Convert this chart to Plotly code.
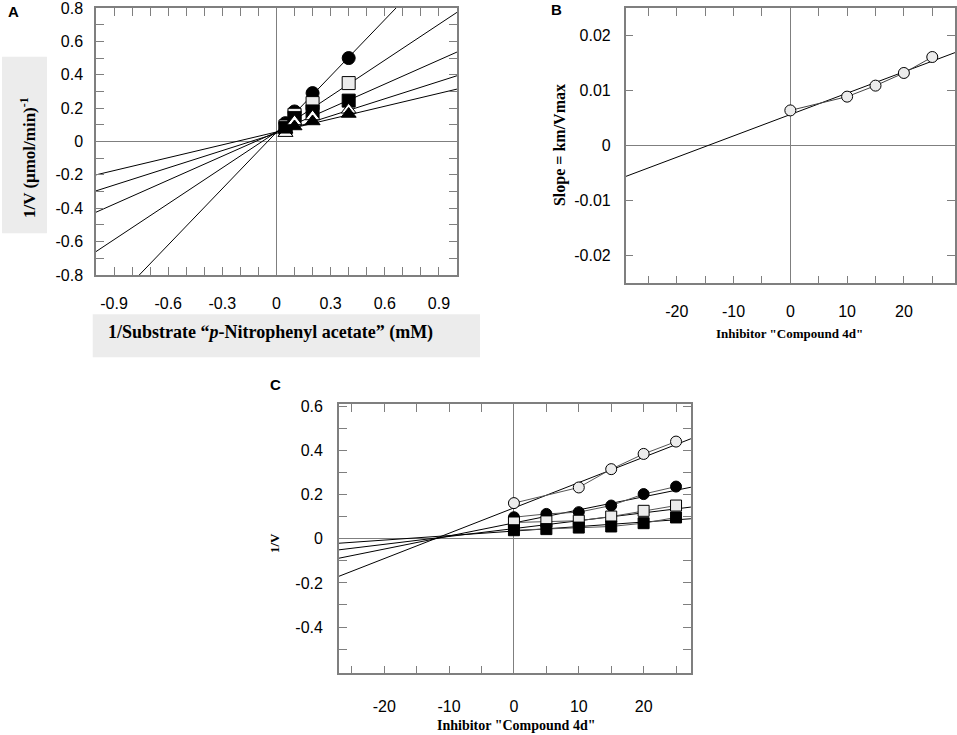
import plotly.graph_objects as go


# =============================
# Data
# =============================

# Panel A - Lineweaver-Burk plot
a_x = [0.05, 0.1, 0.2, 0.4]
a_circle = [0.11, 0.18, 0.29, 0.50]
a_open_sq = [0.09, 0.16, 0.23, 0.35]
a_fill_sq = [0.08, 0.14, 0.18, 0.245]
a_open_tri = [0.05, 0.12, 0.15, 0.19]
a_fill_tri = [0.07, 0.09, 0.12, 0.165]

# fitted lines, values read at the left and right edge of the plot
a_fit_x = [-1.0, 1.0]
a_fit_circle = [-1.07, 1.18]
a_fit_open_sq = [-0.66, 0.774]
a_fit_fill_sq = [-0.424, 0.536]
a_fit_open_tri = [-0.296, 0.394]
a_fit_fill_tri = [-0.2, 0.314]

# Panel B - secondary plot (slope vs inhibitor)
b_x = [0, 10, 15, 20, 25]
b_slope = [0.0064, 0.0089, 0.0109, 0.0132, 0.0161]
b_fit_x = [-29, 29]
b_fit_y = [-0.0056, 0.0169]

# Panel C - Dixon plot
c_x = [0, 5, 10, 15, 20, 25]
c_x_open = [0, 10, 15, 20, 25]
c_open_circle = [0.162, 0.233, 0.316, 0.385, 0.441]
c_fill_circle = [0.098, 0.113, 0.121, 0.151, 0.203, 0.237]
c_open_sq = [0.074, 0.079, 0.082, 0.101, 0.127, 0.151]
c_fill_sq = [0.039, 0.044, 0.051, 0.056, 0.071, 0.097]

c_fit_x = [-27, 27.3]
c_fit_open_circle = [-0.17, 0.454]
c_fit_fill_circle = [-0.088, 0.234]
c_fit_open_sq = [-0.05, 0.144]
c_fit_fill_sq = [-0.02, 0.091]

# tick labels
a_xticks = [-0.9, -0.8, -0.7, -0.6, -0.5, -0.4, -0.3, -0.2, -0.1, 0,
            0.1, 0.2, 0.3, 0.4, 0.5, 0.6, 0.7, 0.8, 0.9]
a_xlabels = ["-0.9", "", "", "-0.6", "", "", "-0.3", "", "", "0",
             "", "", "0.3", "", "", "0.6", "", "", "0.9"]
a_yticks = [-0.8, -0.7, -0.6, -0.5, -0.4, -0.3, -0.2, -0.1, 0,
            0.1, 0.2, 0.3, 0.4, 0.5, 0.6, 0.7, 0.8]
a_ylabels = ["-0.8", "", "-0.6", "", "-0.4", "", "-0.2", "", "0",
             "", "0.2", "", "0.4", "", "0.6", "", "0.8"]

bc_xticks = [-25, -20, -15, -10, -5, 0, 5, 10, 15, 20, 25]
bc_xlabels = ["", "-20", "", "-10", "", "0", "", "10", "", "20", ""]
b_yticks = [-0.02, -0.01, 0, 0.01, 0.02]
b_ylabels = ["-0.02", "-0.01", "0", "0.01", "0.02"]

c_yticks = [-0.5, -0.4, -0.3, -0.2, -0.1, 0, 0.1, 0.2, 0.3, 0.4, 0.5, 0.6]
c_ylabels = ["", "-0.4", "", "-0.2", "", "0", "", "0.2", "", "0.4", "", "0.6"]


# =============================
# Styles
# =============================
LIGHT = "#ececec"
AXIS_GREY = "#7f7f7f"
TICK_FONT = dict(family="Liberation Sans, Arial", size=16, color="black")
TITLE_FONT = dict(family="Liberation Serif, Times New Roman", color="black")
PANEL_FONT = dict(family="Liberation Sans, Arial", size=15, color="black")


def mk(symbol, fill, size):
    return dict(symbol=symbol, size=size, color=fill,
                line=dict(color="black", width=1))


fig = go.Figure()


# -----------------------------
# Panel A
# -----------------------------
a_series = [
    (a_circle, a_fit_circle, "circle", "black"),
    (a_open_sq, a_fit_open_sq, "square", LIGHT),
    (a_fill_sq, a_fit_fill_sq, "square", "black"),
    (a_open_tri, a_fit_open_tri, "triangle-up", "white"),
    (a_fill_tri, a_fit_fill_tri, "triangle-up", "black"),
]

for ys, fit, sym, fill in a_series:
    fig.add_trace(go.Scatter(
        x=a_fit_x, y=fit, mode="lines",
        line=dict(color="black", width=1),
        xaxis="x", yaxis="y", showlegend=False
    ))

for ys, fit, sym, fill in a_series:
    fig.add_trace(go.Scatter(
        x=a_x, y=ys, mode="markers",
        marker=mk(sym, fill, 13),
        xaxis="x", yaxis="y", showlegend=False
    ))


# -----------------------------
# Panel B
# -----------------------------
fig.add_trace(go.Scatter(
    x=b_fit_x, y=b_fit_y, mode="lines",
    line=dict(color="black", width=1),
    xaxis="x2", yaxis="y2", showlegend=False
))

fig.add_trace(go.Scatter(
    x=b_x, y=b_slope, mode="lines+markers",
    line=dict(color="#444444", width=1),
    marker=mk("circle", LIGHT, 11),
    xaxis="x2", yaxis="y2", showlegend=False
))


# -----------------------------
# Panel C
# -----------------------------
c_fits = [c_fit_open_circle, c_fit_fill_circle, c_fit_open_sq, c_fit_fill_sq]

for fit in c_fits:
    fig.add_trace(go.Scatter(
        x=c_fit_x, y=fit, mode="lines",
        line=dict(color="black", width=1),
        xaxis="x3", yaxis="y3", showlegend=False
    ))

c_series = [
    (c_x_open, c_open_circle, "circle", LIGHT),
    (c_x, c_fill_circle, "circle", "black"),
    (c_x, c_open_sq, "square", LIGHT),
    (c_x, c_fill_sq, "square", "black"),
]

for xs, ys, sym, fill in c_series:
    fig.add_trace(go.Scatter(
        x=xs, y=ys, mode="lines+markers",
        line=dict(color="#555555", width=1),
        marker=mk(sym, fill, 11),
        xaxis="x3", yaxis="y3", showlegend=False
    ))


# =============================
# Axes
# =============================
def axis(domain, rng, tickvals, ticktext, standoff, anchor):
    return dict(
        domain=domain, range=rng, anchor=anchor,
        tickvals=tickvals, ticktext=ticktext,
        ticks="inside", ticklen=8, tickwidth=1, tickcolor=AXIS_GREY,
        showline=True, linecolor=AXIS_GREY, linewidth=1.5,
        mirror="allticks", showgrid=False,
        zeroline=True, zerolinecolor=AXIS_GREY, zerolinewidth=1,
        tickfont=TICK_FONT, ticklabelstandoff=standoff,
        ticklabeloverflow="allow"
    )


fig.update_layout(
    width=957, height=735,
    # no auto-expanding: annotations near the edges must not shrink the plots
    margin=dict(l=0, r=0, t=0, b=0, autoexpand=False),
    paper_bgcolor="white", plot_bgcolor="white",

    xaxis=axis([0.1003, 0.4775], [-1.0, 1.0], a_xticks, a_xlabels, 13, "y"),
    yaxis=axis([0.6259, 0.9891], [-0.8, 0.8], a_yticks, a_ylabels, 8, "x"),

    xaxis2=axis([0.6538, 0.9979], [-29, 29], bc_xticks, bc_xlabels, 13, "y2"),
    yaxis2=axis([0.6146, 0.9891], [-0.025, 0.025], b_yticks, b_ylabels, 10, "x2"),

    xaxis3=axis([0.3541, 0.7220], [-27, 27.3], bc_xticks, bc_xlabels, 18, "y3"),
    yaxis3=axis([0.0839, 0.4499], [-0.61, 0.61], c_yticks, c_ylabels, 11, "x3"),
)


# =============================
# Title boxes and labels
# =============================
fig.add_shape(type="rect", xref="paper", yref="paper",
              x0=0.0021, x1=0.0491, y0=0.6826, y1=0.9229,
              fillcolor=LIGHT, line=dict(width=0), layer="below")

fig.add_shape(type="rect", xref="paper", yref="paper",
              x0=0.0969, x1=0.5016, y0=0.5139, y1=0.5724,
              fillcolor=LIGHT, line=dict(width=0), layer="below")

annotations = [
    dict(text="<b>1/V (μmol/min)<sup>-1</sup></b>", x=0.0293, y=0.785,
         textangle=-90, font=dict(TITLE_FONT, size=17)),
    dict(text="<b>1/Substrate “<i>p</i>-Nitrophenyl acetate” (mM)</b>",
         x=0.1108, y=0.547, xanchor="left", font=dict(TITLE_FONT, size=18)),
    dict(text="<b>Slope = km/Vmax</b>", x=0.5852, y=0.8027,
         textangle=-90, font=dict(TITLE_FONT, size=16)),
    dict(text="<b>Inhibitor \"Compound 4d\"</b>", x=0.8245, y=0.5469,
         font=dict(TITLE_FONT, size=13)),
    dict(text="<b>1/V</b>", x=0.2863, y=0.2612,
         textangle=-90, font=dict(TITLE_FONT, size=13)),
    dict(text="<b>Inhibitor \"Compound 4d\"</b>", x=0.5391, y=0.0127,
         font=dict(TITLE_FONT, size=14)),
    dict(text="<b>A</b>", x=0.0136, y=0.9837, font=PANEL_FONT),
    dict(text="<b>B</b>", x=0.5810, y=0.9864, font=PANEL_FONT),
    dict(text="<b>C</b>", x=0.2881, y=0.4762, font=PANEL_FONT),
]

for ann in annotations:
    ann.setdefault("xanchor", "center")
    ann.update(xref="paper", yref="paper", yanchor="middle", showarrow=False)
    fig.add_annotation(**ann)


# page body margin off, so the figure sits at the window corner
fig.write_html(
    "out.html",
    config={"displayModeBar": False},
    post_script="document.body.style.margin = '0';"
)
